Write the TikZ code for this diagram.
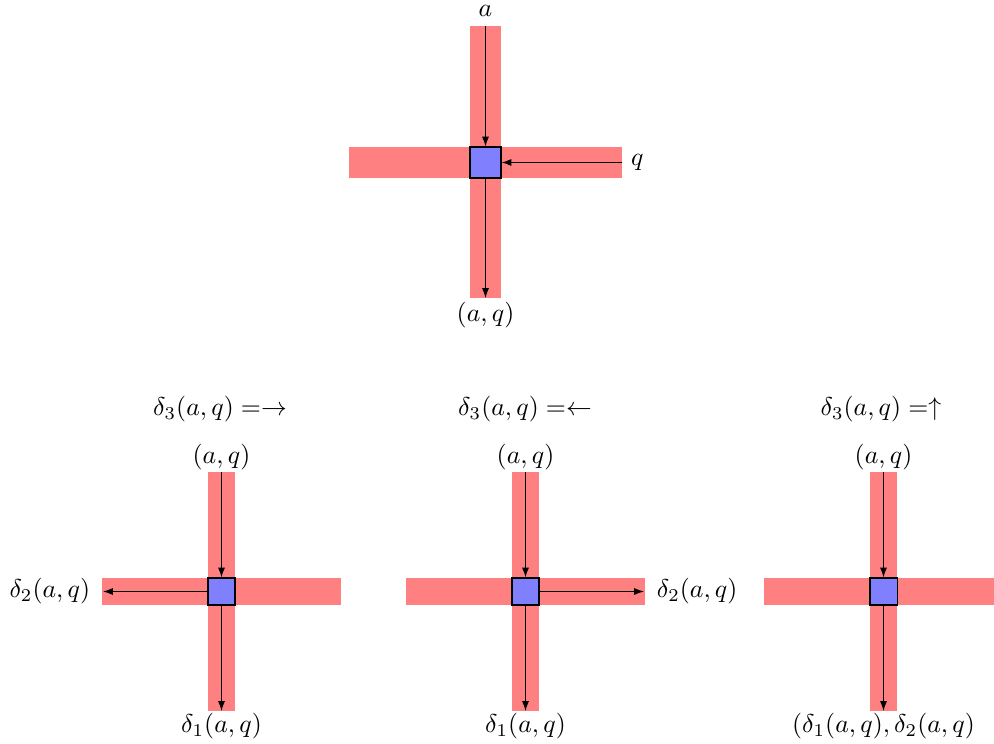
\documentclass[tikz,border=0pt]{standalone}
\usetikzlibrary{arrows.meta}
\begin{document}
\begin{tikzpicture}[x=0.388pt,y=-0.388pt,
  bar/.style={fill=red!50},
  cell/.style={draw=black,fill=blue!50,minimum size=12.03pt,inner sep=0pt},
  cellsmall/.style={cell,minimum size=10.48pt},
  flow/.style={-{Latex[length=3.8pt,width=2.7pt]}},
  tight/.style={inner sep=0.6pt},
]
\useasboundingbox (0,0) rectangle (994,744);
% ---------- top cross ----------
\fill[bar] (470,26) rectangle (501,298);
\fill[bar] (349,147) rectangle (622,178);
\node[cell] (c0) at (485.5,162.5) {};
\coordinate (t0) at (485.5,26);
\coordinate (b0) at (485.5,298);
\coordinate (r0) at (622,162.5);
\node[anchor=south] (la) at (t0) {$a$};
\node[anchor=west] (lq) at (r0) {$q$};
\node[anchor=north,inner sep=1.5pt] (laq) at (b0) {$(a,q)$};
\draw[flow] (t0) -- (c0.north);
\draw[flow] (r0) -- (c0.east);
\draw[flow] (c0.south) -- (b0);
% ---------- bottom left ----------
\fill[bar] (208,472) rectangle (235,711);
\fill[bar] (102,578) rectangle (341,605);
\node[cellsmall] (c1) at (221.5,591.5) {};
\coordinate (t1) at (221.5,472);
\coordinate (b1) at (221.5,711);
\coordinate (l1) at (103,591.5);
\node (h1) at (220,409) {$\delta_3(a,q) =\rightarrow$};
\node[anchor=south,tight] (in1) at (t1) {$(a,q)$};
\node[anchor=east,inner sep=4.8pt] (o21) at (l1) {$\delta_2(a,q)$};
\node[anchor=north,tight] (o11) at (b1) {$\delta_1(a,q)$};
\draw[flow] (t1) -- (c1.north);
\draw[flow] (c1.west) -- (l1);
\draw[flow] (c1.south) -- (b1);
% ---------- bottom middle ----------
\fill[bar] (512,472) rectangle (539,711);
\fill[bar] (406,578) rectangle (645,605);
\node[cellsmall] (c2) at (525.5,591.5) {};
\coordinate (t2) at (525.5,472);
\coordinate (b2) at (525.5,711);
\coordinate (r2) at (644,591.5);
\node (h2) at (525,409) {$\delta_3(a,q) =\leftarrow$};
\node[anchor=south,tight] (in2) at (t2) {$(a,q)$};
\node[anchor=west,inner sep=4.8pt] (o22) at (r2) {$\delta_2(a,q)$};
\node[anchor=north,tight] (o12) at (b2) {$\delta_1(a,q)$};
\draw[flow] (t2) -- (c2.north);
\draw[flow] (c2.east) -- (r2);
\draw[flow] (c2.south) -- (b2);
% ---------- bottom right ----------
\fill[bar] (870,472) rectangle (897,711);
\fill[bar] (764,578) rectangle (1003,605);
\node[cellsmall] (c3) at (883.5,591.5) {};
\coordinate (t3) at (883.5,472);
\coordinate (b3) at (883.5,711);
\node (h3) at (881,409) {$\delta_3(a,q) =\uparrow$};
\node[anchor=south,tight] (in3) at (t3) {$(a,q)$};
\node[anchor=north,tight] (o3) at (b3) {$(\delta_1(a,q),\delta_2(a,q)$};
\draw[flow] (t3) -- (c3.north);
\draw[flow] (c3.south) -- (b3);
\end{tikzpicture}
\end{document}
